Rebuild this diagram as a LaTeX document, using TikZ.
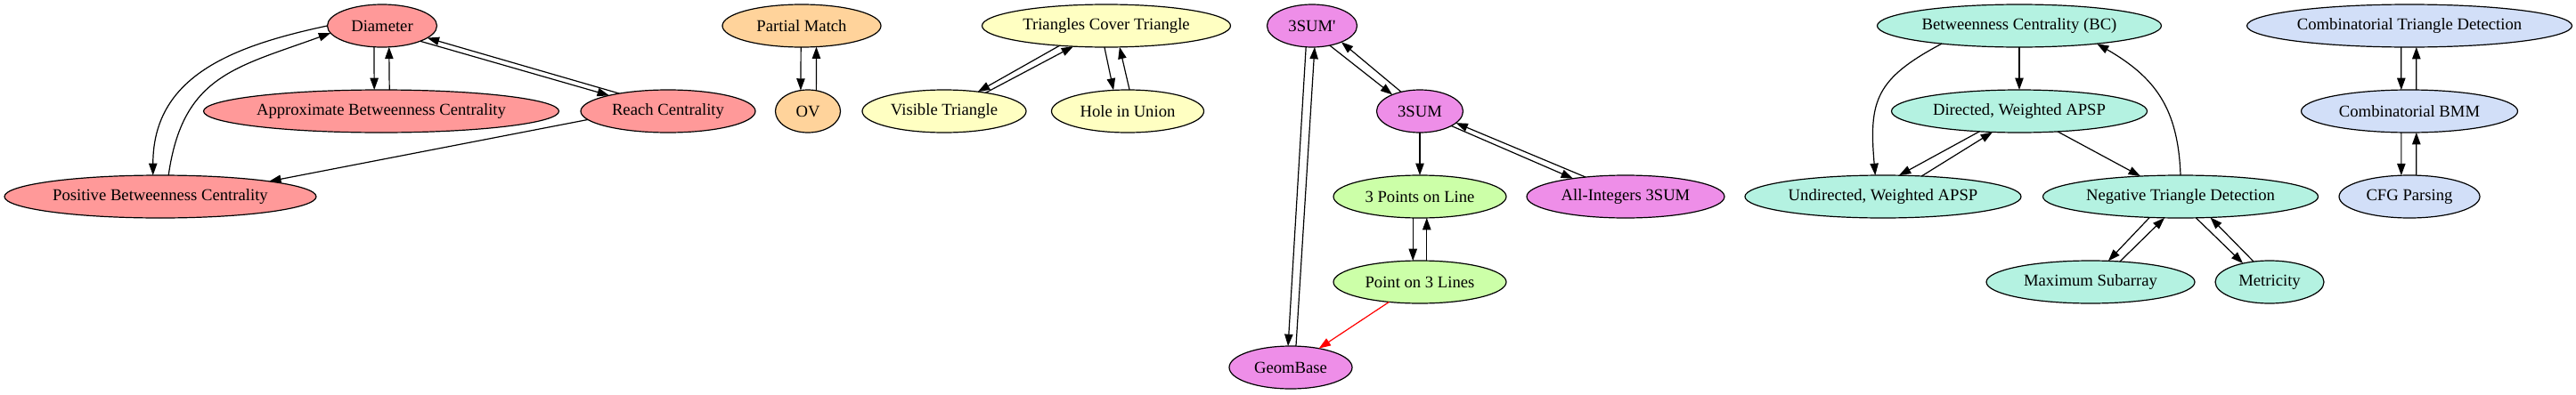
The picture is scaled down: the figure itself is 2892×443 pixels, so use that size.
\documentclass[tikz,border=0pt]{standalone}
\usepackage{fontspec}
\newfontfamily\gvfont{Liberation Serif}
\usetikzlibrary{shapes.geometric,arrows.meta}
\definecolor{cred}{HTML}{FF9999}
\definecolor{cpeach}{HTML}{FFD39B}
\definecolor{cyel}{HTML}{FFFFC2}
\definecolor{cvio}{HTML}{EE8EE8}
\definecolor{cgrn}{HTML}{CCFFA8}
\definecolor{cteal}{HTML}{B4F2E1}
\definecolor{cblue}{HTML}{D2DFF8}
\tikzset{
  nd/.style={ellipse, draw, line width=0.9pt, inner sep=0pt, outer sep=0pt,
    minimum height=36pt, font=\gvfont\fontsize{14pt}{16pt}\selectfont},
  arr/.style={-{Triangle[length=10pt,width=7pt]}, line width=0.9pt},
  redarr/.style={arr, draw=red, -{Triangle[length=10pt,width=7pt,fill=red]}},
}
\begin{document}
\begin{tikzpicture}[x=0.75pt,y=-0.75pt]
\useasboundingbox (0,0) rectangle (2892,443);
% red group
\node[nd, fill=cred, minimum width=92.25pt] (Diam) at (429,29) {Diameter};
\node[nd, fill=cred, minimum width=299.25pt] (ABC) at (428,125) {Approximate Betweenness Centrality};
\node[nd, fill=cred, minimum width=147pt] (Reach) at (750,125) {Reach Centrality};
\node[nd, fill=cred, minimum width=262.5pt] (PBC) at (180,221) {Positive Betweenness Centrality};
% peach
\node[nd, fill=cpeach, minimum width=133.5pt] (PM) at (900,29) {Partial Match};
\node[nd, fill=cpeach, minimum width=54.75pt] (OV) at (907,125) {OV};
% yellow
\node[nd, fill=cyel, minimum width=209.25pt] (TCT) at (1242,29) {Triangles Cover Triangle};
\node[nd, fill=cyel, minimum width=138pt] (VT) at (1060,125) {Visible Triangle};
\node[nd, fill=cyel, minimum width=128.25pt] (HiU) at (1266,125) {Hole in Union};
% violet / green
\node[nd, fill=cvio, minimum width=75.75pt] (S3p) at (1473,29) {3SUM'};
\node[nd, fill=cvio, minimum width=72.75pt] (S3) at (1594,125) {3SUM};
\node[nd, fill=cvio, minimum width=166.5pt] (AI) at (1825,221) {All-Integers 3SUM};
\node[nd, fill=cvio, minimum width=103.5pt] (GB) at (1449,413) {GeomBase};
\node[nd, fill=cgrn, minimum width=145.5pt] (P3L) at (1594,221) {3 Points on Line};
\node[nd, fill=cgrn, minimum width=145.5pt] (Po3) at (1594,317) {Point on 3 Lines};
% teal
\node[nd, fill=cteal, minimum width=239.25pt] (BC) at (2267,29) {Betweenness Centrality (BC)};
\node[nd, fill=cteal, minimum width=215.25pt] (DW) at (2267,125) {Directed, Weighted APSP};
\node[nd, fill=cteal, minimum width=232.5pt] (UW) at (2114,221) {Undirected, Weighted APSP};
\node[nd, fill=cteal, minimum width=231.75pt] (NTD) at (2448,221) {Negative Triangle Detection};
\node[nd, fill=cteal, minimum width=175.5pt] (MS) at (2347,317) {Maximum Subarray};
\node[nd, fill=cteal, minimum width=91.5pt] (Met) at (2548,317) {Metricity};
% blue
\node[nd, fill=cblue, minimum width=273.75pt] (CTD) at (2705,29) {Combinatorial Triangle Detection};
\node[nd, fill=cblue, minimum width=182.25pt] (CBMM) at (2705,125) {Combinatorial BMM};
\node[nd, fill=cblue, minimum width=118.5pt] (CFG) at (2705,221) {CFG Parsing};

% red edges
\draw[arr] (Diam.180) to[out=192,in=90,looseness=1.1] (PBC.109);
\draw[arr] (PBC.69) to[out=82,in=200,looseness=1.2] (Diam.188);
\draw[arr] (Diam.249) -- (ABC.108);
\draw[arr] (ABC.69) -- (Diam.288);
\draw[arr] (Diam.338) -- (Reach.165);
\draw[arr] (Reach.160) -- (Diam.345);
\draw[arr] (Reach.186) -- (PBC.8);
% peach edges
\draw[arr] (PM.268) -- (OV.109);
\draw[arr] (OV.68) -- (PM.305);
% yellow edges
\draw[arr] (TCT.203) -- (VT.30);
\draw[arr] (VT.24) -- (TCT.212);
\draw[arr] (TCT.265) -- (HiU.124);
\draw[arr] (HiU.85) -- (TCT.302);
% violet / green edges
\draw[arr] (S3p.254) -- (GB.97);
\draw[arr] (GB.76) -- (S3p.277);
\draw[arr] (S3p.312) -- (S3.149);
\draw[arr] (S3.134) -- (S3p.331);
\draw[arr] (S3.south) -- (P3L.north);
\draw[arr] (S3.335) -- (AI.161);
\draw[arr] (AI.154) -- (S3.342);
\draw[arr] (P3L.252) -- (Po3.108);
\draw[arr] (Po3.72) -- (P3L.288);
\draw[redarr] (Po3.213) -- (GB.34);
% teal edges
\draw[arr] (BC.193) to[out=208,in=95,looseness=1.3] (UW.110);
\draw[arr] (BC.south) -- (DW.north);
\draw[arr] (DW.207) -- (UW.53);
\draw[arr] (UW.28) -- (DW.218);
\draw[arr] (DW.332) -- (NTD.153);
\draw[arr] (NTD.north) to[out=92,in=330,looseness=1.1] (BC.347);
\draw[arr] (NTD.214) -- (MS.50);
\draw[arr] (MS.35) -- (NTD.233);
\draw[arr] (NTD.306) -- (Met.145);
\draw[arr] (Met.128) -- (NTD.325);
% blue edges
\draw[arr] (CTD.249) -- (CBMM.111);
\draw[arr] (CBMM.72) -- (CTD.288);
\draw[arr] (CBMM.249) -- (CFG.111);
\draw[arr] (CFG.72) -- (CBMM.288);
\end{tikzpicture}
\end{document}
